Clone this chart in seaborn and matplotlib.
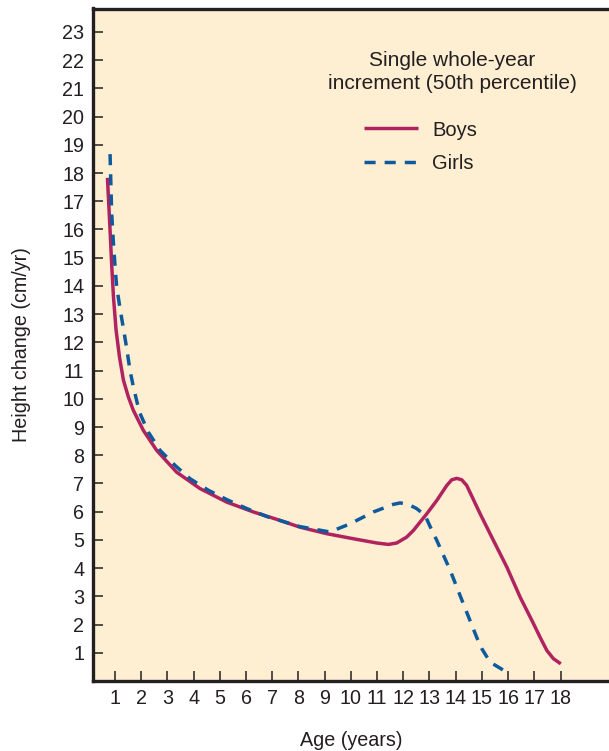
import matplotlib
matplotlib.use("Agg")
import matplotlib.pyplot as plt
import seaborn as sns
import pandas as pd

# Annual height increment, 50th percentile (cm/yr)
boys_age = [0.71, 0.81, 0.87, 0.94, 1.04, 1.17, 1.32, 1.51, 1.70, 2.08, 2.59, 3.35,
            4.24, 5.26, 6.28, 7.3, 8.06, 9.08, 10.1, 10.99, 11.43, 11.75,
            12.13, 12.39, 12.9, 13.28, 13.66, 13.85, 14.04, 14.23, 14.42, 14.93,
            15.44, 15.95, 16.46, 16.97, 17.22, 17.48, 17.73, 18.01]
boys_cm = [17.83, 15.98, 14.79, 13.61, 12.43, 11.48, 10.66, 10.06, 9.59, 8.88, 8.17, 7.40,
           6.82, 6.34, 5.99, 5.69, 5.45, 5.22, 5.04, 4.89, 4.84, 4.89,
           5.1, 5.34, 5.93, 6.4, 6.93, 7.13, 7.18, 7.13, 6.93, 5.93,
           4.98, 4.04, 2.97, 2.03, 1.55, 1.08, 0.79, 0.61]

girls_age = [0.81, 0.87, 0.94, 1.0, 1.06, 1.19, 1.32, 1.45, 1.57, 1.70, 1.93,
             2.27, 2.72, 3.29, 3.86, 4.56, 5.26, 6.03, 6.79, 8.06, 9.2, 9.97, 10.86,
             11.62, 11.88, 12.19, 12.51, 12.83, 13.09, 13.28, 13.79, 14.29, 14.8,
             15.0, 15.31, 15.63, 15.95]
girls_cm = [18.67, 16.6, 15.5, 14.7, 13.99, 13.2, 12.49, 11.76, 11.01, 10.42, 9.53,
            8.82, 8.17, 7.64, 7.17, 6.76, 6.43, 6.11, 5.83, 5.47, 5.28, 5.57, 5.99,
            6.26, 6.31, 6.26, 6.11, 5.87, 5.34, 4.98, 3.92, 2.74, 1.55,
            1.14, 0.67, 0.49, 0.31]

x_ticks = list(range(1, 19))
y_ticks = list(range(1, 24))
series_names = ["Boys", "Girls"]

df = pd.concat([
    pd.DataFrame({"age": boys_age, "cm": boys_cm, "sex": series_names[0]}),
    pd.DataFrame({"age": girls_age, "cm": girls_cm, "sex": series_names[1]}),
], ignore_index=True)

sns.set_theme(style="white")
plt.rcParams["font.family"] = ["Liberation Sans", "DejaVu Sans"]
plt.rcParams["text.color"] = "#231f20"

fig = plt.figure(figsize=(6.09, 7.51), dpi=100)
fig.patch.set_facecolor("white")
ax = fig.add_axes([92.5 / 609, 70 / 751, (609 - 92.5) / 609, (681 - 8.5) / 751])
ax.set_facecolor("#feefd3")

palette = {"Boys": "#b0235f", "Girls": "#0e5a9c"}
sns.lineplot(data=df, x="age", y="cm", hue="sex", style="sex",
             palette=palette, dashes={"Boys": "", "Girls": (3.2, 2.6)},
             estimator=None, sort=False, linewidth=2.5, ax=ax, legend=False)
for ln in ax.lines:
    ln.set_solid_capstyle("butt")
    ln.set_dash_capstyle("butt")
    ln.set_solid_joinstyle("round")

ax.set_xlim(0.14, 19.85)
ax.set_ylim(0, 23.83)
ax.set_xticks(x_ticks)
ax.set_yticks(y_ticks)
ax.tick_params(axis="both", direction="in", length=7.5, width=1.1,
               color="#231f20", labelsize=14.2, labelcolor="#231f20", pad=6,
               bottom=True, left=True)

for side in ("left", "bottom", "top"):
    ax.spines[side].set_linewidth(2.4)
    ax.spines[side].set_color("#231f20")
ax.spines["right"].set_visible(False)

ax.set_xlabel("Age (years)", fontsize=14.2, color="#231f20", labelpad=16)
ax.set_ylabel("Height change (cm/yr)", fontsize=14.2, color="#231f20", labelpad=22)

# Legend block: heading plus line samples
fig.text(452 / 609, 1 - 72 / 751, "Single whole-year\nincrement (50th percentile)",
         ha="center", va="center", fontsize=15, linespacing=1.3, color="#231f20")
handles = [plt.Line2D([], [], color=palette["Boys"], lw=2.5, solid_capstyle="butt"),
           plt.Line2D([], [], color=palette["Girls"], lw=2.5, dashes=(3.2, 2.6),
                      dash_capstyle="butt")]
ax.legend(handles, series_names, loc="upper left",
          bbox_to_anchor=(364 / 609, 1 - 120.5 / 751), bbox_transform=fig.transFigure,
          frameon=False, fontsize=14.5, handlelength=2.7, handletextpad=0.7,
          labelspacing=0.72, borderpad=0, borderaxespad=0)

fig.savefig("out.png", dpi=100)
